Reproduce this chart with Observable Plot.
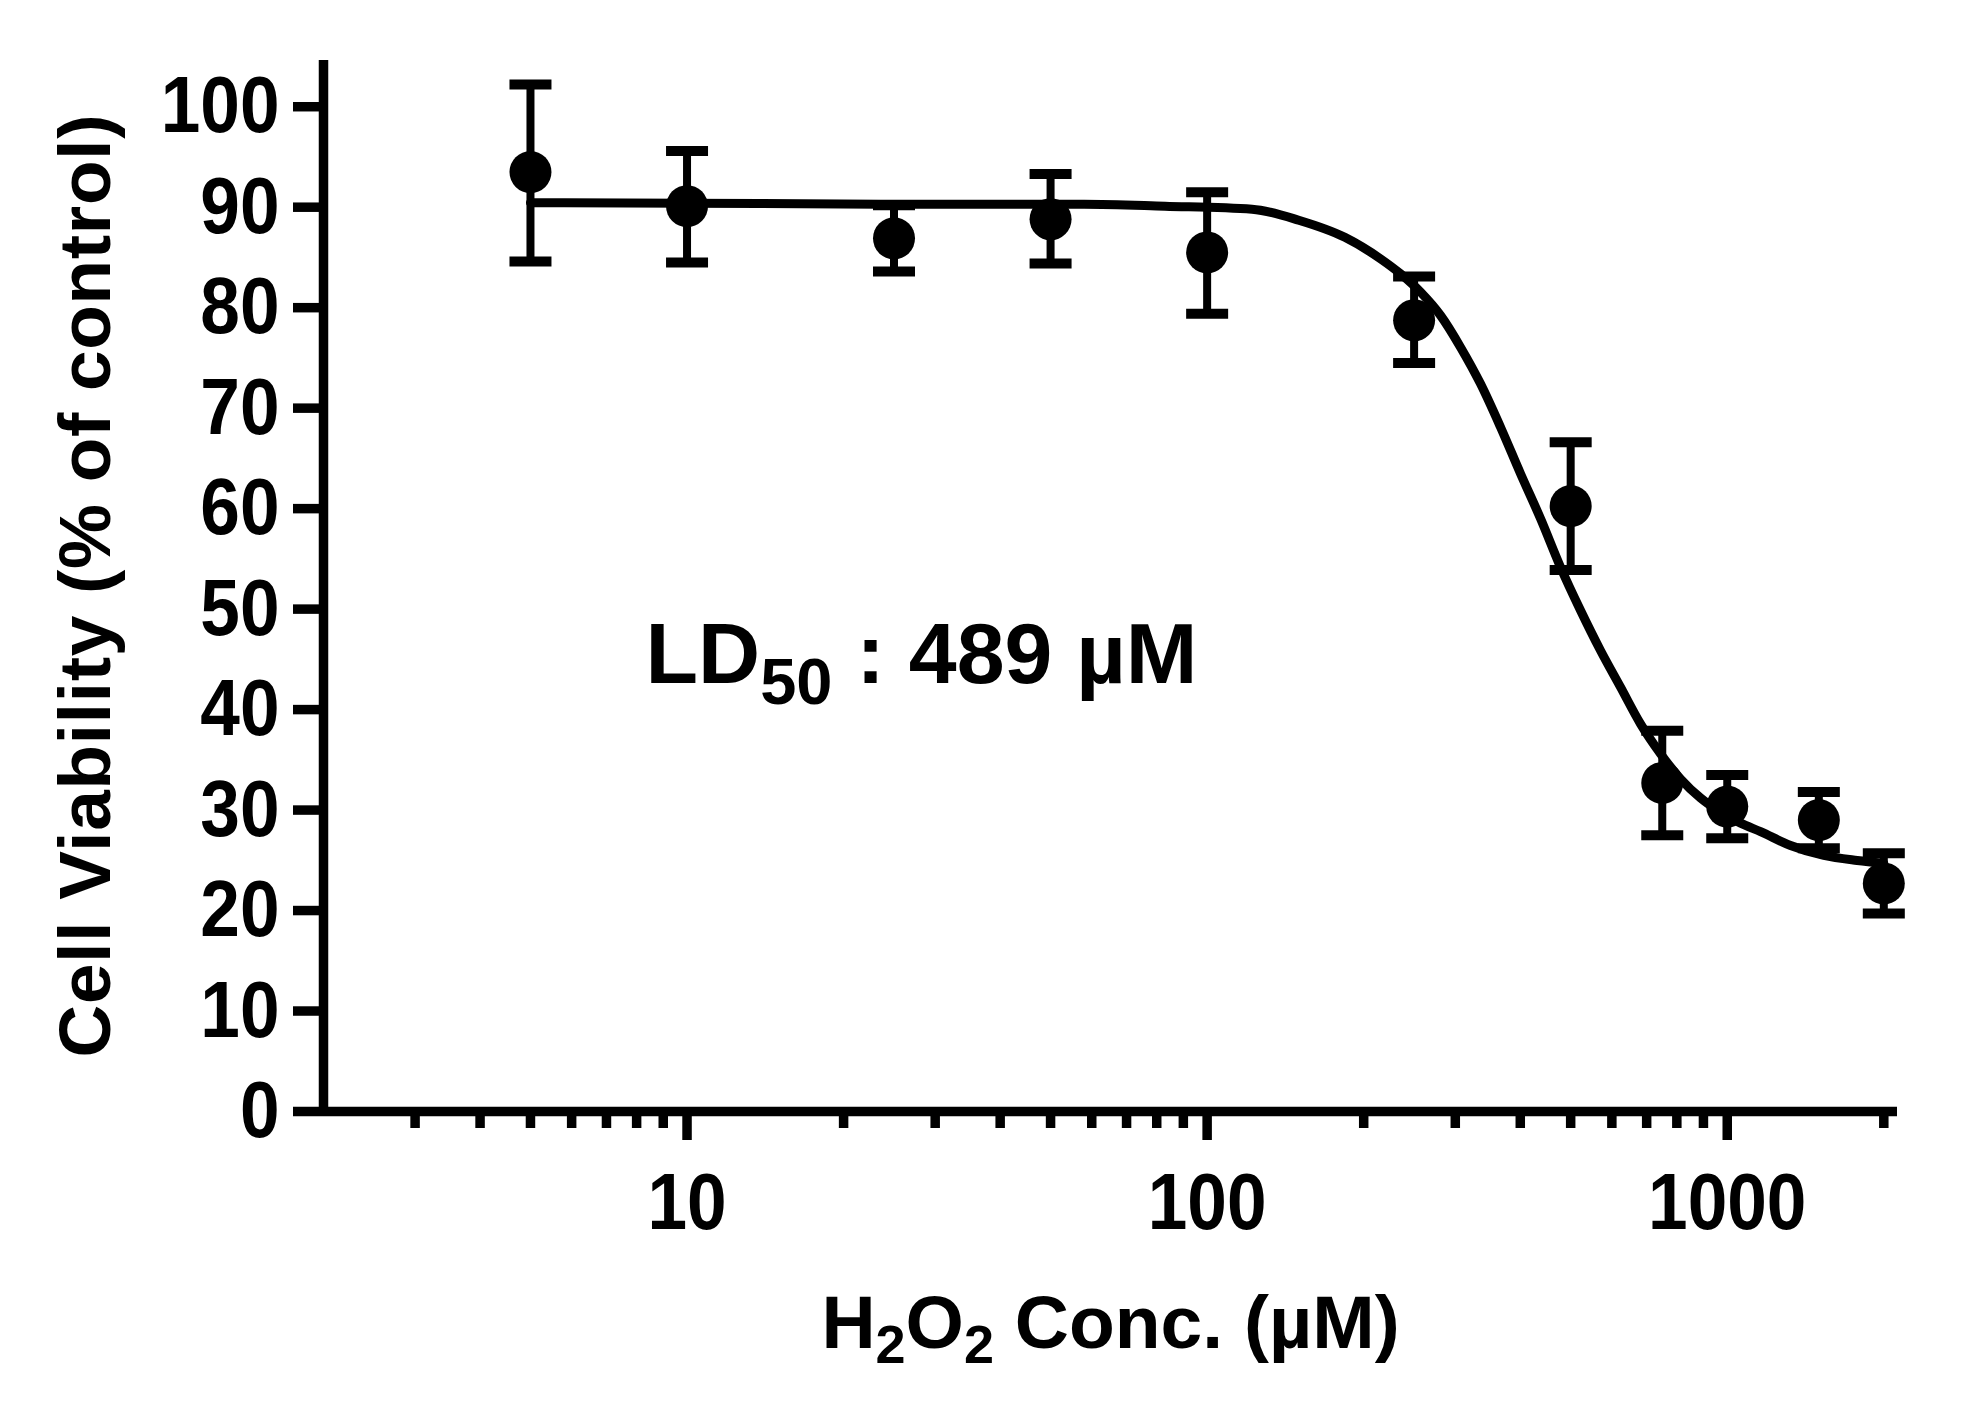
<!DOCTYPE html>
<html>
<head>
<meta charset="utf-8">
<script src="https://cdn.jsdelivr.net/npm/d3@7"></script>
<script src="https://cdn.jsdelivr.net/npm/@observablehq/plot@0.6"></script>
<style>
  html, body { margin: 0; padding: 0; background: #fff; }
  #chart svg { display: block; }
</style>
</head>
<body>
<div id="chart"></div>
<script>
// ---- data ----
const conc      = [5, 10, 25, 50, 100, 250, 500, 750, 1000, 1500, 2000];
const viability = [93.5, 90.1, 86.9, 88.8, 85.5, 78.75, 60.25, 32.7, 30.35, 29.0, 22.7];
const errLow    = [84.6, 84.5, 83.6, 84.4, 79.4, 74.5, 53.9, 27.5, 27.2, 26.2, 19.7];
const errHigh   = [102.2, 95.6, 90.2, 93.3, 91.5, 83.1, 66.6, 37.9, 33.5, 31.8, 25.7];

// fitted curve, points
const curveConc      = [5, 10, 25, 58, 83, 122, 150, 184, 215.5, 235.4, 257.3, 281.1, 307, 335.5, 366.6, 400.5, 437.7, 478.1, 522.4, 570.6, 623.5, 681.2, 744.5, 813.3, 888.7, 971, 1061, 1159, 1323.5, 1533.6, 1778, 2000];
const curveViability = [90.45, 90.4, 90.3, 90.3, 90.1, 89.8, 88.7, 87.0, 84.86, 83.37, 81.54, 79.22, 76.07, 72.42, 68.1, 63.47, 58.99, 54.17, 49.86, 45.88, 42.23, 38.58, 35.6, 33.1, 31.2, 29.8, 28.7, 27.85, 26.47, 25.48, 24.98, 24.7];

const yTicks      = [0, 10, 20, 30, 40, 50, 60, 70, 80, 90, 100];
const xMajorTicks = [10, 100, 1000];
const xMinorTicks = [3, 4, 5, 6, 7, 8, 9, 20, 30, 40, 50, 60, 70, 80, 90, 200, 300, 400, 500, 600, 700, 800, 900, 2000];
const xDomain = [2, 2125];
const yDomain = [0, 104.6];

const xTitle = "H{2}O{2} Conc. (µM)";
const yTitle = "Cell Viability (% of control)";
const annotations = [{conc: 8.32, viability: 45.4, label: "LD{50} : 489 µM"}];

// ---- tables built from the arrays ----
const points = conc.map((c, i) => ({conc: c, viability: viability[i], lo: errLow[i], hi: errHigh[i]}));
const curvePts = curveConc.map((c, i) => ({conc: c, viability: curveViability[i]}));

const capSymbol = {
  draw(context, size) {
    const w = Math.sqrt(size / Math.PI);
    context.moveTo(-w, 0);
    context.lineTo(w, 0);
  }
};

const FONT = "'Liberation Sans', Arial, Helvetica, sans-serif";

const plot = Plot.plot({
  width: 1976,
  height: 1416,
  marginLeft: 323,
  marginRight: 79,
  marginTop: 60,
  marginBottom: 305,
  style: {fontFamily: FONT, fontSize: "80px", fontWeight: "bold", color: "black", background: "white"},
  x: {type: "log", domain: xDomain},
  y: {domain: yDomain},
  marks: [
    Plot.axisY(yTicks, {tickSize: 30, tickPadding: 14, strokeWidth: 9.5, tickFormat: d => String(d), fontSize: 80, fontWeight: "bold", label: null}),
    Plot.axisX({ticks: xMinorTicks, tickSize: 17, strokeWidth: 9.5, tickFormat: () => "", label: null}),
    Plot.axisX({ticks: xMajorTicks, tickSize: 29, tickPadding: 32, strokeWidth: 9.5, tickFormat: d => String(d), fontSize: 80, fontWeight: "bold", label: null}),
    Plot.ruleY([yDomain[0]], {stroke: "black", strokeWidth: 9.5}),
    Plot.ruleX([xDomain[0]], {stroke: "black", strokeWidth: 9.5}),
    Plot.line(curvePts, {x: "conc", y: "viability", stroke: "black", strokeWidth: 9, curve: "monotone-x"}),
    Plot.ruleX(points, {x: "conc", y1: "lo", y2: "hi", stroke: "black", strokeWidth: 8}),
    Plot.dot(points, {x: "conc", y: "hi", r: 21, symbol: capSymbol, stroke: "black", strokeWidth: 10, fill: "none"}),
    Plot.dot(points, {x: "conc", y: "lo", r: 21, symbol: capSymbol, stroke: "black", strokeWidth: 10, fill: "none"}),
    Plot.dot(points, {x: "conc", y: "viability", r: 21, fill: "black", stroke: "none"}),
    Plot.text(annotations, {x: "conc", y: "viability", text: "label", textAnchor: "start", lineAnchor: "middle", fontSize: 86, fontWeight: "bold", fill: "black"}),
    Plot.text([xTitle], {text: d => d, frameAnchor: "bottom", textAnchor: "middle", lineAnchor: "middle", dy: 212, fontSize: 75, fontWeight: "bold", fill: "black"}),
    Plot.text([yTitle], {text: d => d, frameAnchor: "left", textAnchor: "middle", lineAnchor: "middle", rotate: -90, dx: -237, fontSize: 73, fontWeight: "bold", fill: "black"})
  ]
});

document.getElementById("chart").append(plot);

// ---- post-processing: subscripts and condensed tick glyphs ----
const SVGNS = "http://www.w3.org/2000/svg";
function applySub(el, subSize, shift) {
  const s = el.textContent;
  const parts = s.split(/(\{[^}]*\})/).filter(p => p.length);
  el.textContent = "";
  let lowered = false;
  for (const p of parts) {
    const t = document.createElementNS(SVGNS, "tspan");
    if (p.startsWith("{")) {
      t.textContent = p.slice(1, -1);
      t.setAttribute("font-size", subSize);
      t.setAttribute("dy", shift);
      lowered = true;
    } else {
      t.textContent = p;
      if (lowered) { t.setAttribute("dy", -shift); lowered = false; }
    }
    el.appendChild(t);
  }
}
function squeeze(el, factor) {
  const L = el.getComputedTextLength();
  el.setAttribute("textLength", L * factor);
  el.setAttribute("lengthAdjust", "spacingAndGlyphs");
}
const allText = d3.select(plot).selectAll("text");
const ldText = allText.filter(function () { return this.textContent === annotations[0].label; }).node();
const xTitleText = allText.filter(function () { return this.textContent === xTitle; }).node();
const yTitleText = allText.filter(function () { return this.textContent === yTitle; }).node();
if (ldText) { applySub(ldText, 65, 21); }
if (xTitleText) { applySub(xTitleText, 54, 15); }
if (yTitleText) { yTitleText.setAttribute("textLength", 943); yTitleText.setAttribute("lengthAdjust", "spacing"); }

d3.select(plot).selectAll('g[aria-label="x-axis tick label"] text').each(function () { if (this.textContent) squeeze(this, 0.89); });
d3.select(plot).selectAll('g[aria-label="y-axis tick label"] text').each(function () { squeeze(this, 0.89); });
</script>
</body>
</html>
